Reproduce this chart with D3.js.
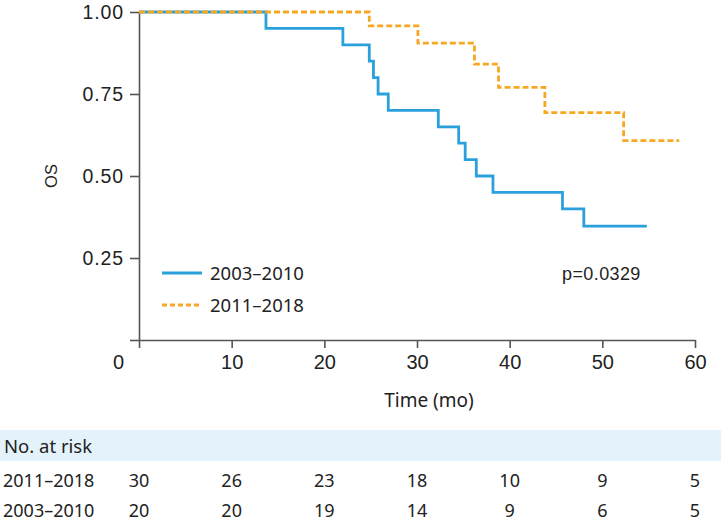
<!DOCTYPE html>
<html><head><meta charset="utf-8">
<script src="https://cdn.jsdelivr.net/npm/d3@7"></script>
<style>
body{margin:0;background:#fff;}
svg{display:block;}
</style></head>
<body><svg id="c" width="723" height="520"></svg>
<script>
// ---- data ----
const seriesNames = ["2003\u20132010", "2011\u20132018"];
const blueTimes = [0, 13.7, 22.0, 24.85, 25.3, 25.8, 26.9, 32.3, 34.5, 35.2, 36.4, 38.2, 45.7, 48.0, 54.8];
const blueSurv  = [1, 0.95, 0.90, 0.85, 0.80, 0.75, 0.70, 0.65, 0.60, 0.55, 0.50, 0.45, 0.40, 0.347, 0.347];
const orangeTimes = [0, 24.85, 30.1, 36.2, 38.8, 43.8, 52.3, 58.3];
const orangeSurv  = [1, 0.958, 0.905, 0.841, 0.770, 0.693, 0.608, 0.608];
const xTicks = [0, 10, 20, 30, 40, 50, 60];
const yTicks = [0, 0.25, 0.5, 0.75, 1];
const yTickLabels = ["", "0.25", "0.50", "0.75", "1.00"];
const riskTimes = [0, 10, 20, 30, 40, 50, 60];
const riskLabels = ["2011\u20132018", "2003\u20132010"];
const risk2011 = [30, 26, 23, 18, 10, 9, 5];
const risk2003 = [20, 20, 19, 14, 9, 6, 5];
const pText = "p=0.0329";

// ---- layout ----
const svg = d3.select("#c");
const x = d3.scaleLinear().domain([0, 60]).range([139, 695]);
const y = d3.scaleLinear().domain([0, 1]).range([340, 12]);
const axisCol = "#555";
const blue = "#2aa0dc", orange = "#f7a823";
const tickFont = "'Liberation Sans', Arial, sans-serif";
const uiFont = "'Noto Sans', sans-serif";

// x axis
const gx = svg.append("g").attr("transform", "translate(0,340)")
  .call(d3.axisBottom(x).tickValues(xTicks).tickSize(8).tickPadding(7).tickSizeOuter(0));
gx.select(".domain").attr("stroke", axisCol).attr("stroke-width", 1.6);
gx.selectAll(".tick line").attr("stroke", axisCol).attr("stroke-width", 1.6);
gx.selectAll(".tick text").attr("font-family", tickFont).attr("font-size", 20).attr("fill", "#222")
  .attr("dx", d => d === 0 ? -21 : 0);

// y axis
const gy = svg.append("g").attr("transform", "translate(139,0)")
  .call(d3.axisLeft(y).tickValues(yTicks).tickSize(9).tickPadding(6).tickSizeOuter(0)
    .tickFormat((d, i) => yTickLabels[i]));
gy.select(".domain").attr("stroke", axisCol).attr("stroke-width", 1.6);
gy.selectAll(".tick line").attr("stroke", axisCol).attr("stroke-width", 1.6);
gy.selectAll(".tick text").attr("font-family", tickFont).attr("font-size", 19.5).attr("fill", "#222")
  .attr("letter-spacing", 0.9);

// axis titles
svg.append("text").attr("x", 429).attr("y", 407).attr("text-anchor", "middle")
  .attr("font-family", uiFont).attr("font-size", 19).attr("fill", "#222").text("Time (mo)");
svg.append("text").attr("transform", "translate(57,176) rotate(-90)").attr("text-anchor", "middle")
  .attr("font-family", tickFont).attr("font-size", 16.5).attr("fill", "#222").text("OS");

// curves
const line = d3.line().x(d => x(d[0])).y(d => y(d[1])).curve(d3.curveStepAfter);
svg.append("path").datum(d3.zip(blueTimes, blueSurv)).attr("d", line)
  .attr("fill", "none").attr("stroke", blue).attr("stroke-width", 2.8);
svg.append("path").datum(d3.zip(orangeTimes, orangeSurv)).attr("d", line)
  .attr("fill", "none").attr("stroke", orange).attr("stroke-width", 2.8).attr("stroke-dasharray", "6,3");

// legend
const leg = [{c: blue, dash: null, yy: 273, ty: 280}, {c: orange, dash: "5,3", yy: 305, ty: 311.5}];
leg.forEach((l, i) => {
  svg.append("line").attr("x1", 162).attr("x2", 202).attr("y1", l.yy).attr("y2", l.yy)
    .attr("stroke", l.c).attr("stroke-width", 2.8).attr("stroke-dasharray", l.dash);
  svg.append("text").attr("x", 210).attr("y", l.ty).attr("font-family", uiFont).attr("font-size", 18.5)
    .attr("fill", "#222").text(seriesNames[i]);
});

// p value
svg.append("text").attr("x", 562).attr("y", 279.5).attr("font-family", tickFont).attr("font-size", 18)
  .attr("letter-spacing", 0.4).attr("fill", "#222").text(pText);

// risk table
svg.append("rect").attr("x", 0).attr("y", 430).attr("width", 721).attr("height", 31).attr("fill", "#e4f3fb");
svg.append("text").attr("x", 4).attr("y", 452.5).attr("font-family", uiFont).attr("font-size", 18.5)
  .attr("fill", "#222").text("No. at risk");
const rows = [{lab: riskLabels[0], vals: risk2011, by: 486.5}, {lab: riskLabels[1], vals: risk2003, by: 516.5}];
rows.forEach(r => {
  svg.append("text").attr("x", 3).attr("y", r.by).attr("font-family", uiFont).attr("font-size", 18)
    .attr("fill", "#222").text(r.lab);
  svg.append("g").selectAll("text").data(r.vals).join("text")
    .attr("x", (d, i) => x(riskTimes[i])).attr("y", r.by).attr("text-anchor", "middle")
    .attr("font-family", uiFont).attr("font-size", 18).attr("fill", "#222").text(d => d);
});
</script></body></html>
